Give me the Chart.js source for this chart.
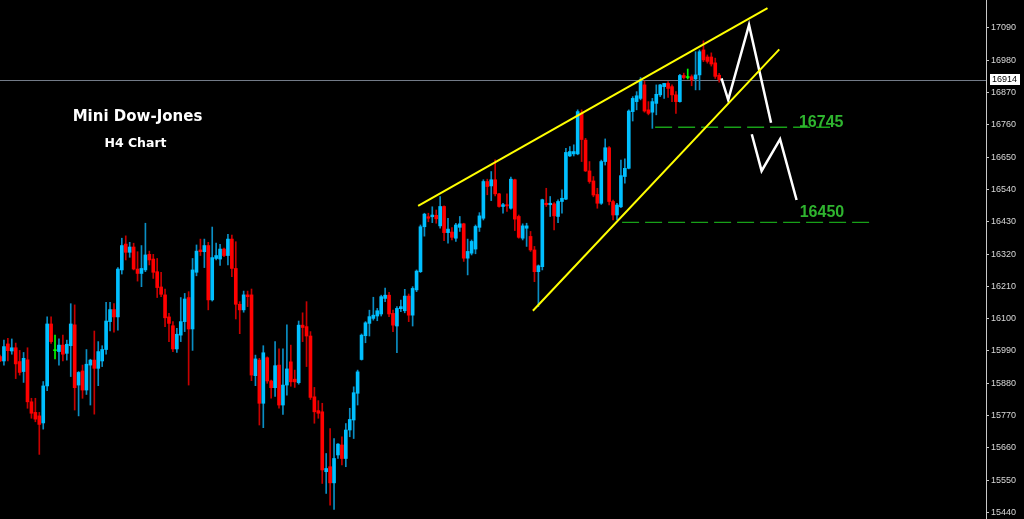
<!DOCTYPE html>
<html>
<head>
<meta charset="utf-8">
<style>
  html, body { margin: 0; padding: 0; background: #000; }
  #wrap { width: 1024px; height: 519px; }
</style>
<script src="https://cdn.jsdelivr.net/npm/chart.js@4/dist/chart.umd.min.js"></script>
</head>
<body>
<div id="wrap"><canvas id="chart" width="1024" height="519"></canvas></div>
<script>
// H4 candles (oldest first)
const opens = [
  15971,15956,16014,15990,16001,15954,15920,15960,15817,15781,
  15769,15745,15871,16082,15991,15988,16010,15982,16008,16079,
  15874,15922,15857,15942,15959,15931,15956,15995,16090,16131,
  16106,16266,16354,16326,16344,16269,16254,16266,16319,16303,
  16260,16208,16181,16106,16076,15997,16044,16090,16172,16065,
  16258,16334,16328,16349,16164,16305,16303,16337,16315,16371,
  16271,16149,16130,16181,16181,15906,15959,15812,15967,15888,
  15865,15942,15806,15874,15953,15894,15882,16078,16073,16041,
  15834,15787,15783,15579,15596,15541,15636,15670,15624,15721,
  15755,15846,15961,16042,16084,16101,16109,16116,16169,16180,
  16118,16075,16134,16127,16177,16112,16198,16260,16413,16447,
  16447,16452,16416,16482,16393,16395,16374,16411,16423,16306,
  16323,16337,16411,16442,16567,16552,16573,16525,16482,16488,
  16476,16573,16448,16374,16408,16380,16334,16260,16277,16493,
  16488,16491,16448,16499,16507,16654,16661,16661,16800,16708,
  16603,16569,16523,16493,16635,16682,16499,16453,16481,16584,
  16612,16805,16839,16850,16896,16811,16803,16833,16862,16890,
  16901,16890,16862,16839,16928,16921,16924,16916,16930,17015,
  16991,16991,16971,16929
];
const highs = [
  15976,16027,16033,16031,16017,15992,15985,16001,15829,15829,
  15781,15886,16106,16106,16044,16031,16044,16027,16151,16147,
  15920,15942,15995,15962,16058,16022,16008,16156,16156,16151,
  16274,16374,16382,16360,16357,16328,16349,16425,16330,16319,
  16305,16258,16201,16118,16090,16067,16172,16186,16192,16305,
  16351,16371,16371,16360,16412,16357,16353,16340,16387,16385,
  16362,16158,16194,16194,16201,15976,15965,16008,15970,15891,
  16022,15997,15997,16079,16010,15925,16092,16120,16158,16056,
  15866,15821,15812,15641,15726,15692,15675,15698,15743,15795,
  15868,15925,16048,16090,16129,16173,16135,16180,16204,16190,
  16129,16141,16163,16200,16184,16209,16266,16419,16459,16459,
  16481,16470,16516,16484,16442,16410,16425,16448,16425,16371,
  16368,16419,16461,16573,16575,16601,16641,16527,16493,16525,
  16582,16575,16453,16423,16425,16397,16346,16283,16507,16544,
  16516,16495,16505,16539,16680,16686,16692,16811,16811,16714,
  16635,16584,16544,16640,16712,16686,16504,16493,16640,16644,
  16811,16856,16873,16921,16909,16839,16850,16896,16898,16901,
  16907,16896,16873,16932,16936,16950,16930,17009,17015,17046,
  16998,17005,16987,16935
];
const lows = [
  15954,15942,15956,15979,15896,15908,15883,15795,15761,15749,
  15638,15724,15855,16016,15963,15942,15956,15959,15903,15789,
  15769,15829,15842,15806,15775,15872,15937,15979,16058,16054,
  16061,16252,16300,16309,16266,16228,16209,16260,16283,16237,
  16172,16175,16073,16022,15988,15985,16022,16056,15874,15992,
  16246,16315,16274,16130,16160,16300,16281,16311,16283,16243,
  16099,16049,16122,16141,15889,15872,15738,15729,15880,15829,
  15835,15795,15774,15840,15870,15866,15877,16022,15937,15825,
  15744,15761,15539,15505,15465,15451,15624,15602,15596,15698,
  15692,15806,15959,16018,16041,16095,16093,16109,16158,16107,
  16056,15984,16124,16120,16090,16075,16192,16257,16381,16430,
  16427,16425,16408,16366,16357,16368,16363,16397,16295,16249,
  16317,16321,16397,16436,16522,16502,16518,16480,16459,16465,
  16473,16400,16374,16368,16346,16329,16226,16141,16266,16482,
  16448,16402,16427,16459,16505,16652,16654,16658,16635,16601,
  16561,16515,16476,16489,16623,16487,16436,16436,16478,16561,
  16610,16773,16811,16845,16803,16794,16748,16794,16856,16850,
  16853,16839,16799,16837,16916,16916,16893,16879,16879,16975,
  16970,16960,16918,16905
];
const closes = [
  15956,16005,15991,16001,15946,15917,15965,15817,15778,15758,
  15740,15871,16082,16022,15991,16010,15979,16013,16082,15865,
  15917,15857,15945,15959,15931,15988,15995,16092,16131,16106,
  16269,16349,16326,16344,16269,16254,16271,16317,16300,16258,
  16206,16183,16103,16084,15997,16047,16090,16167,16065,16266,
  16330,16328,16349,16164,16308,16315,16337,16315,16371,16271,
  16149,16130,16181,16175,15908,15963,15812,15984,15888,15865,
  15940,15806,15874,15929,15885,15885,16078,16070,16041,15832,
  15783,15778,15585,15590,15541,15624,15673,15624,15721,15757,
  15848,15919,16044,16086,16107,16112,16127,16175,16180,16116,
  16078,16135,16141,16177,16112,16203,16262,16413,16456,16442,
  16453,16440,16482,16393,16405,16377,16419,16423,16306,16329,
  16363,16414,16450,16567,16550,16573,16525,16482,16488,16484,
  16575,16439,16377,16416,16416,16334,16260,16280,16505,16488,
  16493,16450,16499,16510,16666,16669,16669,16805,16710,16603,
  16567,16521,16493,16635,16682,16499,16453,16487,16587,16612,
  16807,16850,16859,16913,16807,16799,16839,16864,16896,16901,
  16884,16862,16839,16928,16921,16921,16913,16930,17009,16981,
  16976,16967,16925,16914
];

// price axis
const tickValues = [15440,15550,15660,15770,15880,15990,16100,16210,16320,16430,16540,16650,16760,16870,16980,17090];

// drawn objects: [bar index, price] pairs
const upperTrend = [[106.4, 16484], [195.3, 17157]];
const lowerTrend = [[135.6, 16127], [198.3, 17017]];
const pathA = [[183.6, 16918], [185.3, 16845], [190.6, 17100], [196.2, 16767]];
const pathB = [[191.3, 16728], [193.8, 16603], [198.5, 16711], [202.7, 16504]];
const level1 = [[166.7, 16752], [211.2, 16752]];
const level2 = [[158.3, 16428], [222.6, 16428]];
const levelLabels = ['16745', '16450'];
const levelLabelPos = [[203.3, 16752], [203.5, 16445]];

const UP = '#00bfff', DOWN = '#ff0000', DOJI = '#00ff00';
const UP_WICK = '#0a8ec4', DOWN_WICK = '#c80000';

function dir(i) {
    if (closes[i] > opens[i]) return 1;
    if (closes[i] < opens[i]) return -1;
    return 0;
}

const wickData = opens.map((o, i) => ({ x: i, y: [lows[i], highs[i]] }));
const bodyData = opens.map((o, i) => ({ x: i, y: [o, closes[i]] }));
const toPts = arr => arr.map(p => ({ x: p[0], y: p[1] }));

function lineSet(pts, color, width, dash) {
    return {
        type: 'line',
        data: toPts(pts),
        borderColor: color,
        borderWidth: width,
        borderDash: dash || [],
        pointRadius: 0,
        fill: false,
        tension: 0,
        order: 0
    };
}

const overlay = {
    id: 'overlay',
    beforeDraw(chart) {
        const ctx = chart.ctx;
        ctx.save();
        ctx.fillStyle = '#000';
        ctx.fillRect(0, 0, chart.width, chart.height);
        ctx.restore();
    },
    beforeDatasetsDraw(chart) {
        // current price line
        const ctx = chart.ctx, a = chart.chartArea;
        const y = Math.round(chart.scales.y.getPixelForValue(closes[closes.length - 1])) + 0.5;
        ctx.save();
        ctx.strokeStyle = '#737b88';
        ctx.lineWidth = 1;
        ctx.beginPath();
        ctx.moveTo(a.left, y);
        ctx.lineTo(a.right, y);
        ctx.stroke();
        ctx.restore();
    },
    afterDraw(chart) {
        const ctx = chart.ctx, xs = chart.scales.x, ys = chart.scales.y;
        ctx.save();
        // title
        ctx.fillStyle = '#ffffff';
        ctx.textAlign = 'center';
        ctx.textBaseline = 'alphabetic';
        ctx.font = 'bold 15px "DejaVu Sans"';
        ctx.fillText('Mini Dow-Jones', 137.5, 121);
        ctx.font = 'bold 12.5px "DejaVu Sans"';
        ctx.fillText('H4 Chart', 135.5, 147);

        // level labels
        ctx.textAlign = 'left';
        ctx.font = 'bold 16px "Liberation Sans"';
        ctx.fillStyle = '#2fb42f';
        levelLabels.forEach((t, k) => {
            const p = levelLabelPos[k];
            ctx.fillText(t, xs.getPixelForValue(p[0]), ys.getPixelForValue(p[1]));
        });

        // price box on the axis
        const last = closes[closes.length - 1];
        const y = ys.getPixelForValue(last);
        const bx = chart.chartArea.right + 4;
        ctx.fillStyle = '#ffffff';
        ctx.fillRect(bx, Math.round(y) - 6, 30, 11);
        ctx.fillStyle = '#000000';
        ctx.font = '9px "Liberation Sans"';
        ctx.textBaseline = 'middle';
        ctx.fillText(String(last), bx + 2, Math.round(y));
        ctx.restore();
    }
};

new Chart(document.getElementById('chart'), {
    type: 'bar',
    data: {
        datasets: [
            lineSet(upperTrend, '#ffff00', 2),
            lineSet(lowerTrend, '#ffff00', 2),
            lineSet(pathA, '#ffffff', 2.5),
            lineSet(pathB, '#ffffff', 2.5),
            lineSet(level1, '#18a018', 1.4, [17, 6]),
            lineSet(level2, '#18a018', 1.4, [17, 6]),
            {
                data: bodyData,
                backgroundColor: opens.map((o, i) => dir(i) > 0 ? UP : dir(i) < 0 ? DOWN : DOJI),
                barThickness: 3,
                minBarLength: 1,
                grouped: false,
                order: 1
            },
            {
                data: wickData,
                backgroundColor: opens.map((o, i) => dir(i) > 0 ? UP_WICK : dir(i) < 0 ? DOWN_WICK : DOJI),
                barThickness: 1,
                grouped: false,
                order: 2
            }
        ]
    },
    options: {
        responsive: false,
        animation: false,
        devicePixelRatio: 1,
        layout: { padding: 0 },
        plugins: {
            legend: { display: false },
            tooltip: { enabled: false }
        },
        scales: {
            x: {
                type: 'linear',
                display: false,
                offset: false,
                bounds: 'ticks',
                min: 0,
                max: 250.9
            },
            y: {
                position: 'right',
                min: 15418,
                max: 17185,
                afterBuildTicks: (scale) => {
                    scale.ticks = tickValues.map(v => ({ value: v }));
                },
                afterFit: (scale) => {
                    scale.width = 38;
                    scale.paddingTop = 0;
                    scale.paddingBottom = 0;
                },
                grid: {
                    drawOnChartArea: false,
                    drawTicks: true,
                    tickLength: 3,
                    color: '#c8c8c8'
                },
                border: { display: true, color: '#c8c8c8', width: 1 },
                ticks: {
                    color: '#d8d8d8',
                    padding: 2,
                    font: { family: 'Liberation Sans', size: 9 },
                    callback: (v) => String(v)
                }
            }
        }
    },
    plugins: [overlay]
});
</script>
</body>
</html>
